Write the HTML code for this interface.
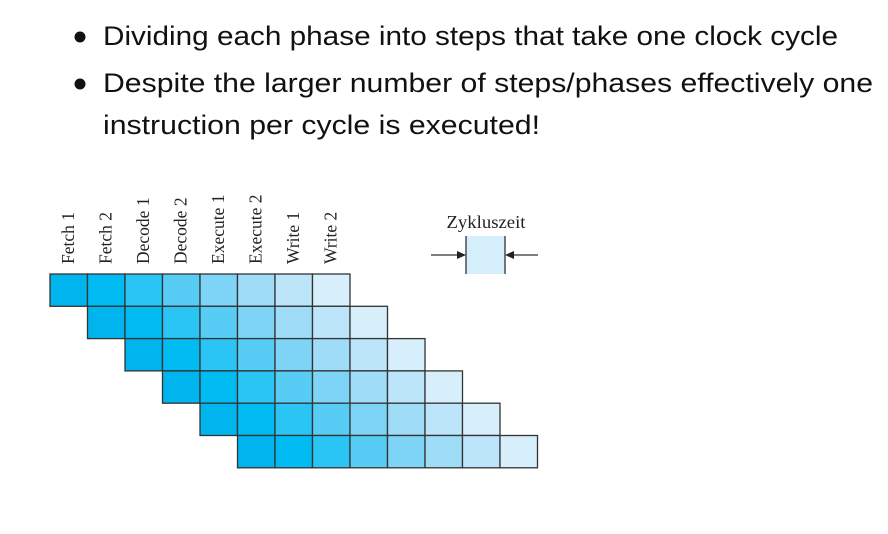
<!DOCTYPE html>
<html><head><meta charset="utf-8"><style>
html,body{margin:0;padding:0;background:#fff;}
svg{display:block;}
</style></head><body>
<svg id="chart" width="888" height="534" viewBox="0 0 888 534" xmlns="http://www.w3.org/2000/svg">
  <g font-family="'Liberation Sans', sans-serif" font-size="27" fill="#111">
    <circle cx="80" cy="37" r="5.5" fill="#111"/>
    <text x="103" y="45" textLength="735" lengthAdjust="spacingAndGlyphs">Dividing each phase into steps that take one clock cycle</text>
    <circle cx="80" cy="84" r="5.5" fill="#111"/>
    <text x="103" y="92" textLength="770" lengthAdjust="spacingAndGlyphs">Despite the larger number of steps/phases effectively one</text>
    <text x="103" y="134" textLength="437" lengthAdjust="spacingAndGlyphs">instruction per cycle is executed!</text>
  </g>
  <g id="labels"></g>
  <g id="grid"></g>
  <g>
    <text x="486" y="228" text-anchor="middle" font-family="'Liberation Serif', serif" font-size="17.5" fill="#222" textLength="79" lengthAdjust="spacingAndGlyphs">Zykluszeit</text>
    <rect x="466" y="236" width="39" height="38" fill="#d4eefb"/>
    <line x1="466" y1="236" x2="466" y2="274" stroke="#333" stroke-width="1.3"/>
    <line x1="505" y1="236" x2="505" y2="274" stroke="#333" stroke-width="1.3"/>
    <line x1="431" y1="255" x2="460" y2="255" stroke="#333" stroke-width="1.3"/>
    <polygon points="466,255 457,251 457,259" fill="#222"/>
    <line x1="511" y1="255" x2="538" y2="255" stroke="#333" stroke-width="1.3"/>
    <polygon points="505,255 514,251 514,259" fill="#222"/>
  </g>
</svg>
<script>
const stages = ["Fetch 1","Fetch 2","Decode 1","Decode 2","Execute 1","Execute 2","Write 1","Write 2"];
const stageColors = ["#00b4ee","#00bcf2","#2ac5f4","#57cdf5","#7dd4f6","#9edcf7","#bde5f9","#d6effb"];
const instructions = [0,1,2,3,4,5];
const x0 = 50, cw = 37.5, y0 = 274, rh = 32.3;
const ns = "http://www.w3.org/2000/svg";
const xs = c => x0 + c*cw;
const ys = r => y0 + r*rh;
const grid = document.getElementById('grid');
const labels = document.getElementById('labels');
stages.forEach((s,i)=>{
  const t = document.createElementNS(ns,'text');
  
  
  const cx = xs(i)+cw/2+5, cy = 264;
  t.setAttribute('transform',`translate(${cx},${cy}) rotate(-90)`);
  t.setAttribute('font-family',"'Liberation Serif', serif");
  t.setAttribute('font-size','17.5');
  t.setAttribute('fill','#222');
  t.textContent = s;
  labels.appendChild(t);
});
instructions.forEach(r=>{
  stages.forEach((s,i)=>{
    const rc = document.createElementNS(ns,'rect');
    
    
    rc.setAttribute('x',xs(r+i));
    rc.setAttribute('y',ys(r));
    rc.setAttribute('width',cw);
    rc.setAttribute('height',rh);
    rc.setAttribute('fill',stageColors[i]);
    rc.setAttribute('stroke','#333');
    rc.setAttribute('stroke-width','1.3');
    grid.appendChild(rc);
  });
});
</script>
</body></html>
